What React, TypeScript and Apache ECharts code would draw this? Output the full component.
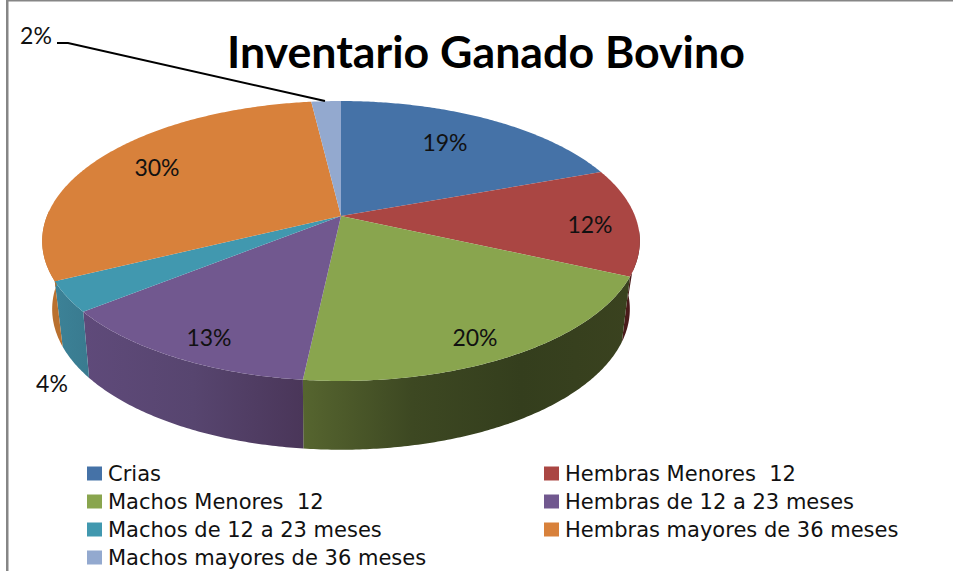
import React, { useEffect, useRef } from "react";
import * as echarts from "echarts";

const TITLE = "Inventario Ganado Bovino";
const CATEGORIES = [
  "Crias",
  "Hembras Menores  12",
  "Machos Menores  12",
  "Hembras de 12 a 23 meses",
  "Machos de 12 a 23 meses",
  "Hembras mayores de 36 meses",
  "Machos mayores de 36 meses",
];
const VALUES = [19.4, 12.4, 19.9, 12.5, 3.5, 30.4, 1.9];
const TOP_COLORS = ["#4572a7", "#aa4643", "#89a54e", "#71588f", "#4198af", "#d8813b", "#93a9cf"];
const SIDE_STOPS = [
  ["#2c4a6e", "#2c4a6e"],
  ["#4a1a1a", "#4a1a1a"],
  ["#56652f", "#3d4822", "#343e1d", "#3a421f"],
  ["#5f4a7a", "#57456f", "#4a3659"],
  ["#3c8297", "#397a8f"],
  ["#b9702f", "#b9702f"],
  ["#6f7f9c", "#6f7f9c"],
];
const LABEL_CENTERS = [[445, 142], [590, 224], [475, 337], [209, 337], [52, 383], [157, 167], [36, 35]];
const LEADER = [[57, 43], [68, 43], [325, 101]];

const FONT = "Lato";
const LEGEND_FONT = "DejaVu Sans";
const CX = 341;
const TOP = { cy: 216, r: 294, a: 135.5, k: 0.1786 };
const BOT = { cy: 281, r: 283, a: 135, k: 0.2 };

const project = (p: typeof TOP, t: number) => {
  const u = Math.sin(t);
  const v = Math.cos(t);
  const w = 1 + p.k * v;
  return [CX + (p.r * u) / w, p.cy - (p.a * v) / w];
};
const arc = (p: typeof TOP, t0: number, t1: number) => {
  const n = Math.max(2, Math.ceil(Math.abs(t1 - t0) / 0.01));
  const pts: number[][] = [];
  for (let i = 0; i <= n; i++) pts.push(project(p, t0 + ((t1 - t0) * i) / n));
  return pts;
};
const total = VALUES.reduce((s, v) => s + v, 0);
const EDGES = VALUES.reduce<number[]>((acc, v) => [...acc, acc[acc.length - 1] + (v / total) * Math.PI * 2], [0]);
const SIDE_FROM = (96 / 180) * Math.PI;
const SIDE_TO = (272 / 180) * Math.PI;

export default function App() {
  const ref = useRef<HTMLDivElement>(null);
  useEffect(() => {
    const chart = echarts.init(ref.current!, null, { renderer: "svg" });
    const legendBase = {
      orient: "vertical" as const,
      icon: "rect",
      itemWidth: 15,
      itemHeight: 14,
      itemGap: 7,
      itemStyle: { borderWidth: 0 },
      textStyle: { fontFamily: LEGEND_FONT, fontSize: 21, color: "#111", padding: [0, 0, 0, 1] },
      padding: 0,
      selectedMode: false,
      top: 463,
      height: 108,
    };
    chart.setOption({
      animation: false,
      backgroundColor: "#fff",
      title: {
        text: TITLE,
        left: 227,
        top: 28,
        padding: 0,
        textStyle: { fontFamily: FONT, fontWeight: "bold", fontSize: 44.7, color: "#000" },
      },
      legend: [
        { ...legendBase, left: 87, data: CATEGORIES.filter((_, i) => i % 2 === 0) },
        { ...legendBase, left: 544, data: CATEGORIES.filter((_, i) => i % 2 === 1) },
      ],
      graphic: [
        { type: "rect", shape: { x: 6, y: 0, width: 2.5, height: 571 }, style: { fill: "#868686" }, silent: true },
        { type: "rect", shape: { x: 6, y: 0, width: 947, height: 1.5 }, style: { fill: "#868686" }, silent: true },
      ],
      series: [
        {
          type: "custom",
          name: "caras",
          coordinateSystem: "none",
          z: 1,
          data: VALUES.map((v, i) => [v, i]),
          renderItem: (_: any, api: any) => {
            const i = api.value(1);
            const t0 = Math.max(EDGES[i], SIDE_FROM);
            const t1 = Math.min(EDGES[i + 1], SIDE_TO);
            if (t1 <= t0) return { type: "group", children: [] };
            const points = [...arc(TOP, t0, t1), ...arc(BOT, t1, t0)];
            const stops = SIDE_STOPS[i];
            return {
              type: "polygon",
              shape: { points },
              style: {
                fill: {
                  type: "linear", x: 0, y: 0, x2: 1, y2: 0,
                  colorStops: stops.map((color, s) => ({ offset: s / (stops.length - 1), color })),
                },
              },
            };
          },
        },
        ...CATEGORIES.map((name, i) => ({
          type: "custom",
          name,
          coordinateSystem: "none",
          z: 2,
          itemStyle: { color: TOP_COLORS[i] },
          data: [[VALUES[i], i]],
          renderItem: (_: any, api: any) => {
            const idx = api.value(1);
            const points = [[CX, TOP.cy], ...arc(TOP, EDGES[idx], EDGES[idx + 1])];
            return { type: "polygon", shape: { points }, style: { fill: TOP_COLORS[idx] } };
          },
        })),
        {
          type: "custom",
          name: "etiquetas",
          coordinateSystem: "none",
          z: 3,
          data: VALUES.map((v, i) => [v, i]),
          renderItem: (_: any, api: any) => {
            const i = api.value(1);
            const [x, y] = LABEL_CENTERS[i];
            const label = {
              type: "text",
              style: {
                x, y,
                text: `${Math.round(api.value(0))}%`,
                fontFamily: FONT,
                fontSize: 23,
                fill: "#111",
                align: "center",
                verticalAlign: "middle",
              },
            };
            if (i !== VALUES.length - 1) return label;
            return {
              type: "group",
              children: [
                label,
                { type: "polyline", shape: { points: LEADER }, style: { stroke: "#000", lineWidth: 2, fill: "none" } },
              ],
            };
          },
        },
      ],
    });
    return () => chart.dispose();
  }, []);
  return <div ref={ref} style={{ position: "fixed", left: 0, top: 0, width: 953, height: 571 }} />;
}
